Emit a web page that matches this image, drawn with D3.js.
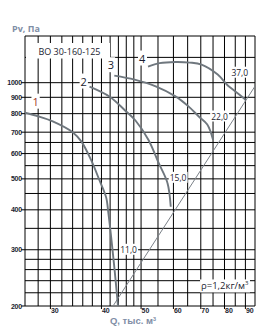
<!DOCTYPE html>
<html>
<head>
<meta charset="utf-8">
<script src="https://cdn.jsdelivr.net/npm/d3@7"></script>
<style>
  body { margin: 0; background: #fff; }
  svg { display: block; }
</style>
</head>
<body>
<svg id="chart" width="272" height="326"></svg>
<script>
// grid and ticks
var gridQ = [26, 28, 30, 32, 34, 36, 38, 40, 42, 44, 46, 48, 50, 55, 60, 65, 70, 75, 80, 85, 90, 95];
var gridP = [200, 220, 240, 260, 280, 300, 350, 400, 450, 500, 550, 600, 650, 700, 800, 900, 1000, 1200, 1400];
var tickQ = [30, 40, 50, 60, 70, 80, 90];
var tickP = [200, 300, 400, 500, 600, 700, 800, 900, 1000];

// fan curves [Q, Pv]
var curve1 = [[26.0, 805], [28.0, 785], [30.4, 757], [34.0, 700], [35.7, 655], [37.7, 574], [39.5, 497], [41.1, 436], [41.5, 400], [43.0, 265], [43.9, 200]];
var curve2 = [[37.4, 972], [41.9, 904], [45.5, 823], [48.5, 760], [52.1, 663], [55.2, 561], [58.0, 486], [59.1, 409]];
var curve3 = [[43.0, 1052], [48.2, 1022], [54.3, 974], [60.7, 906], [65.3, 843], [69.2, 784], [72.6, 740], [75.0, 663]];
var curve4 = [[52.0, 1123], [55.5, 1151], [60.7, 1161], [65.8, 1156], [70.3, 1139], [77.0, 1060], [81.5, 980], [85.2, 937], [90.1, 885]];
var network = [[42.7, 200], [95, 975]];

// labels: text, Q, P
var curveLabels = [["1", 27.6, 872], ["2", 36.2, 1008], ["3", 42.2, 1134], ["4", 50.3, 1190]];
var powerLabels = [["37,0", 87.2, 1075], ["22,0", 77.8, 784], ["15,0", 61.6, 504], ["11,0", 46.6, 300]];

var svg = d3.select("#chart");

var x = d3.scaleLog().domain([26, 95]).range([25, 255]);
var y = d3.scaleLog().domain([200, 1400]).range([306, 36]);

var grid = svg.append("g").attr("stroke", "#000").attr("stroke-width", 1);

grid.selectAll(".vline").data(gridQ).enter().append("line")
    .attr("x1", function(d) { return x(d); })
    .attr("x2", function(d) { return x(d); })
    .attr("y1", y(200)).attr("y2", y(1400));

grid.selectAll(".hline").data(gridP).enter().append("line")
    .attr("y1", function(d) { return y(d); })
    .attr("y2", function(d) { return y(d); })
    .attr("x1", x(26)).attr("x2", x(95));

// tick marks
grid.selectAll(".ytick").data(tickP).enter().append("line")
    .attr("y1", function(d) { return y(d); })
    .attr("y2", function(d) { return y(d); })
    .attr("x1", x(26) - 4).attr("x2", x(26));
grid.selectAll(".xtick").data(tickQ).enter().append("line")
    .attr("x1", function(d) { return x(d); })
    .attr("x2", function(d) { return x(d); })
    .attr("y1", y(200)).attr("y2", y(200) + 3);

// tick labels
svg.append("g").selectAll("text").data(tickP).enter().append("text")
    .attr("x", x(26) - 3)
    .attr("y", function(d) { return y(d) + 2.5; })
    .attr("text-anchor", "end")
    .style("font", "bold 7px 'Liberation Sans', Arial, sans-serif")
    .style("letter-spacing", "-0.2px")
    .attr("fill", "#1b1d30")
    .text(function(d) { return d; });

svg.append("g").selectAll("text").data(tickQ).enter().append("text")
    .attr("x", function(d) { return x(d) + 0.5; })
    .attr("y", y(200) + 7)
    .attr("text-anchor", "start")
    .style("font", "bold 7px 'Liberation Sans', Arial, sans-serif")
    .attr("fill", "#1b1d30")
    .text(function(d) { return d; });

// axis titles
svg.append("text").attr("x", 12).attr("y", 32)
    .style("font", "bold 9px 'Open Sans', sans-serif")
    .attr("fill", "#7f8ea6")
    .text("Pv, Па");
svg.append("text").attr("x", 133).attr("y", 324)
    .attr("text-anchor", "middle")
    .style("font", "bold 9.5px 'Liberation Sans', Arial, sans-serif")
    .attr("fill", "#7f8ea6")
    .html("Q, тыс. м<tspan font-size='5.5' dy='-3.5'>3</tspan>");

// network characteristic
var line = d3.line().x(function(d) { return x(d[0]); }).y(function(d) { return y(d[1]); });

svg.append("clipPath").attr("id", "plot")
    .append("rect").attr("x", x(26)).attr("y", y(1400)).attr("width", x(95) - x(26) + 2).attr("height", y(200) - y(1400));

svg.append("path").datum(network)
    .attr("d", line)
    .attr("clip-path", "url(#plot)")
    .attr("fill", "none").attr("stroke", "#7b8188").attr("stroke-width", 1);

svg.append("g").selectAll("path").data([curve1, curve2, curve3, curve4]).enter().append("path")
    .attr("d", function(d) { return d3.line().curve(d3.curveCatmullRom.alpha(0.5))
        .x(function(p) { return x(p[0]); }).y(function(p) { return y(p[1]); })(d); })
    .attr("fill", "none")
    .attr("stroke", "#6f777e")
    .attr("stroke-width", 1.9);

// labels with white boxes
function boxedText(txt, px, py, size, color, weight) {
    var g = svg.append("g");
    var t = g.append("text")
        .attr("x", px).attr("y", py + size * 0.36)
        .attr("text-anchor", "middle")
        .style("font-family", "'Open Sans', sans-serif")
        .style("font-size", size + "px")
        .style("font-weight", weight || "normal")
        .attr("fill", color)
        .html(txt);
    var b = t.node().getBBox();
    g.insert("rect", "text")
        .attr("x", b.x - 1).attr("y", b.y).attr("width", b.width + 2).attr("height", b.height)
        .attr("fill", "#fff");
    return g;
}

// title box hides the grid
svg.append("rect").attr("x", x(26) + 1).attr("y", 43).attr("width", 84).attr("height", 15.5).attr("fill", "#fff");
svg.append("text").attr("x", x(33.4)).attr("y", y(1250) + 3.5)
    .attr("text-anchor", "middle")
    .style("font", "9px 'Open Sans', sans-serif")
    .attr("fill", "#1b1d30")
    .text("ВО 30-160-125");

curveLabels.forEach(function(l, i) {
    boxedText(l[0], x(l[1]), y(l[2]), 11, i === 0 ? "#a0361e" : "#1b1d30");
});
powerLabels.forEach(function(l) {
    boxedText(l[0], x(l[1]), y(l[2]), 8.5, "#1b1d30");
});
boxedText("ρ=1,2кг/м<tspan font-size='6' dy='-4'>3</tspan>", x(80.1), y(231), 9.5, "#1b1d30");
</script>
</body>
</html>
